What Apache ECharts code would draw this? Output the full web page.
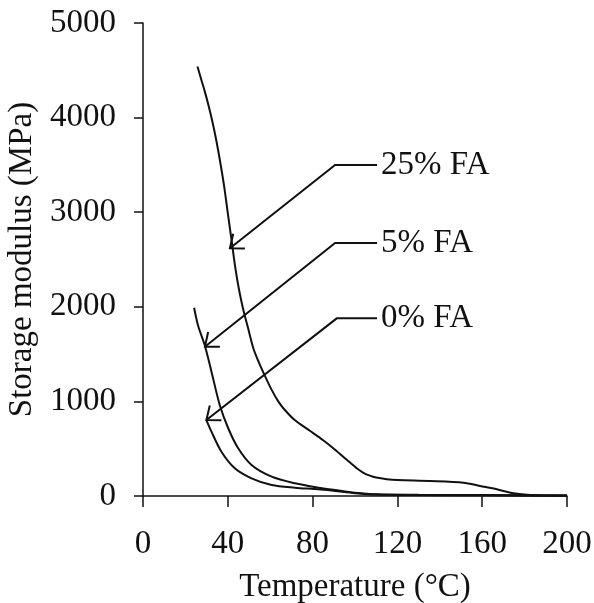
<!DOCTYPE html>
<html>
<head>
<meta charset="utf-8">
<script src="https://cdn.jsdelivr.net/npm/echarts@6/dist/echarts.min.js"></script>
<style>
html,body{margin:0;padding:0;background:#fff;}
#chart{width:594px;height:603px;}
</style>
</head>
<body>
<div id="chart"></div>
<script>
// Temperature (°C) and storage modulus (MPa)
var fa25 = [[25.7,4540],[27.5,4400],[29.1,4280],[31.0,4120],[32.9,3940],[34.7,3745],[36.5,3520],[38.3,3270],[40.0,2990],[41.8,2700],[43.5,2420],[45.3,2180],[47.2,1980],[49.5,1780],[52.0,1565],[54.7,1410],[57.5,1270],[60.5,1130],[63.8,1000],[66.5,920],[71.7,800],[78.7,690],[85.0,590],[90.6,490],[96.0,385],[101.0,290],[104.0,245],[107.0,215],[110.0,195],[115.0,178],[120.0,169],[135.4,159],[151.2,141],[159.0,106],[166.9,71],[174.8,29],[182.7,11],[200.0,5]];
var fa5 = [[24.1,1990],[26.0,1800],[29.1,1596],[32.3,1314],[36.2,962],[40.2,716],[44.9,504],[51.2,328],[60.7,204],[71.7,134],[82.7,88],[90.6,63],[100.0,35],[110.0,18],[130.0,12],[160.0,10],[200.0,5]];
var fa0 = [[29.9,803],[32.3,680],[37.0,468],[43.3,293],[51.2,187],[60.7,116],[71.7,88],[82.7,71],[90.6,53],[100.0,30],[110.0,15],[130.0,10],[160.0,8],[200.0,3]];

var xTicks = [0, 40, 80, 120, 160, 200];
var yTicks = [0, 1000, 2000, 3000, 4000, 5000];

// annotation labels with arrow tip, knee and end (data coordinates)
var annoLabels = ['25% FA', '5% FA', '0% FA'];
var annoTip = [[41.0,2618],[29.2,1578],[29.9,803]];
var annoKnee = [[90.6,3499],[90.6,2674],[91.4,1878]];
var annoEndX = [110.4, 110.4, 110.4];

var FONT = "'Liberation Serif','Times New Roman',serif";

var annoData = annoLabels.map(function (lab, i) {
  return [annoTip[i][0], annoTip[i][1], annoKnee[i][0], annoKnee[i][1], annoEndX[i], lab];
});

var chart = echarts.init(document.getElementById('chart'), null, {renderer: 'canvas'});

function lineSeries(name, data) {
  return {
    name: name, type: 'line', data: data, showSymbol: false, smooth: 0.3,
    lineStyle: {color: '#111', width: 2}, silent: true, animation: false
  };
}

var option = {
  backgroundColor: '#fff',
  animation: false,
  grid: {left: 143, right: 27, top: 23, bottom: 107, containLabel: false, outerBoundsMode: 'none'},
  xAxis: {
    type: 'value', min: xTicks[0], max: xTicks[xTicks.length - 1], interval: 40,
    name: 'Temperature (\u00B0C)', nameLocation: 'middle', nameGap: 75,
    nameTextStyle: {fontFamily: FONT, fontSize: 33, color: '#111'},
    axisLine: {show: true, onZero: false, lineStyle: {color: '#111', width: 1.5}},
    axisTick: {show: true, inside: false, length: 11, lineStyle: {color: '#111', width: 1.5}},
    axisLabel: {fontFamily: FONT, fontSize: 33, color: '#111', margin: 32,
                formatter: function (v) { return String(v); }},
    splitLine: {show: false}
  },
  yAxis: {
    type: 'value', min: yTicks[0], max: yTicks[yTicks.length - 1], interval: 1000,
    name: 'Storage modulus (MPa)', nameLocation: 'middle', nameGap: 94, nameRotate: 90,
    nameTextStyle: {fontFamily: FONT, fontSize: 33, color: '#111'},
    axisLine: {show: true, onZero: false, lineStyle: {color: '#111', width: 1.5}},
    axisTick: {show: true, inside: false, length: 9, lineStyle: {color: '#111', width: 1.5}},
    axisLabel: {fontFamily: FONT, fontSize: 33, color: '#111', margin: 27,
                formatter: function (v) { return String(v); }},
    splitLine: {show: false}
  },
  series: [
    lineSeries('25% FA', fa25),
    lineSeries('5% FA', fa5),
    lineSeries('0% FA', fa0),
    {
      type: 'custom', silent: true, animation: false, data: annoData,
      renderItem: function (params, api) {
        var tip = api.coord([api.value(0), api.value(1)]);
        var knee = api.coord([api.value(2), api.value(3)]);
        var end = api.coord([api.value(4), api.value(3)]);
        var label = annoData[params.dataIndex][5];
        var ang = Math.atan2(knee[1] - tip[1], knee[0] - tip[0]);
        var L = 15, spread = 0.68;
        var a1 = [tip[0] + L * Math.cos(ang - spread), tip[1] + L * Math.sin(ang - spread)];
        var a2 = [tip[0] + L * Math.cos(ang + spread), tip[1] + L * Math.sin(ang + spread)];
        var st = {stroke: '#111', lineWidth: 2, fill: null};
        return {
          type: 'group',
          children: [
            {type: 'polyline', shape: {points: [tip, knee, end]}, style: st},
            {type: 'polyline', shape: {points: [a1, tip, a2]}, style: st},
            {type: 'text', x: end[0] + 4, y: end[1],
             style: {text: label, fontFamily: FONT, fontSize: 33, fill: '#111',
                     textAlign: 'left', textVerticalAlign: 'middle', verticalAlign: 'middle'}}
          ]
        };
      }
    }
  ]
};
chart.setOption(option);
</script>
</body>
</html>
